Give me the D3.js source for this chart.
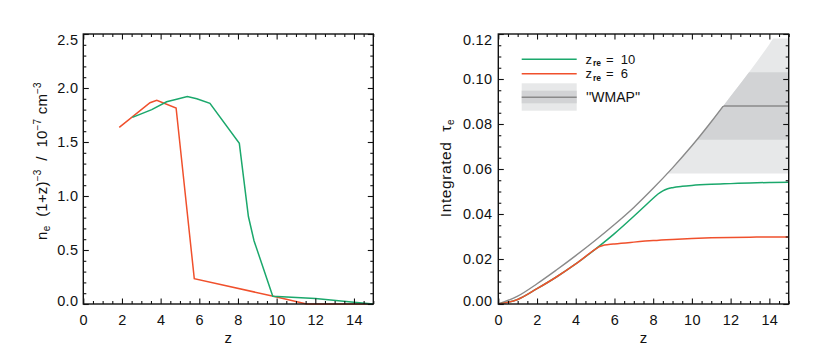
<!DOCTYPE html>
<html><head><meta charset="utf-8">
<script src="https://cdn.jsdelivr.net/npm/d3@7"></script>
<style>
html,body{margin:0;padding:0;background:#fff;}
svg{display:block;}
text{font-family:"Liberation Sans",Arial,Helvetica,sans-serif;fill:#111;}
</style></head>
<body><svg id="c" width="830" height="346"></svg>
<script>
// ---------- Data ----------
// Left panel: n_e (1+z)^-3 in 1e-7 cm^-3
const leftZre10_z = [2.54, 3.54, 4.31, 4.83, 5.38, 5.87, 6.55, 8.07, 8.54, 8.83, 9.8, 12.0, 14.0, 15.0];
const leftZre10_v = [1.728, 1.80, 1.873, 1.895, 1.92, 1.90, 1.858, 1.488, 0.81, 0.586, 0.072, 0.052, 0.016, 0.0];
const leftZre6_z  = [1.86, 3.45, 3.8, 4.8, 5.74, 9.83, 11.55, 15.0];
const leftZre6_v  = [1.636, 1.864, 1.886, 1.815, 0.235, 0.072, 0.0, 0.0];

// Right panel: integrated tau_e
const tauFull_z = [0,1,2,3,4,5,6,7,8,9,10,11,12,13,14,15];
const tauFull_v = [0,.0035,.0090,.0151,.0215,.0282,.0353,.0429,.0514,.0605,.0703,.0810,.0923,.1036,.1155,.1280];
const tauZre10_z = [0,1,2,3,4,5,6,7,7.5,8,8.25,8.5,8.75,9,9.5,10,11,12,13,14,15];
const tauZre10_v = [0,.0020,.0068,.0120,.0178,.0243,.0313,.0390,.0430,.0470,.0489,.0503,.0512,.0517,.0523,.0527,.0532,.0535,.0538,.0540,.0541];
const tauZre6_z = [0,1,2,3,4,5,5.2,5.4,5.7,6,7,8,9,10,11,12,13,14,15];
const tauZre6_v = [0,.0020,.0068,.0120,.0178,.0243,.0254,.0260,.0264,.0267,.0275,.0282,.0287,.0291,.0294,.0296,.0297,.0298,.0298];
const wmapTau = 0.088, wmap1 = [0.073, 0.103], wmap2 = [0.058, 0.118];

const xTicks = [0,2,4,6,8,10,12,14];
const leftYTicks = [0,0.5,1.0,1.5,2.0,2.5];
const rightYTicks = [0,0.02,0.04,0.06,0.08,0.10,0.12];
const legendLabels = ["10","6"];

const GREEN = "#1ba86c", RED = "#f0502c", GRAY = "#8a8a8a", LIGHT = "#e7e8e9", DARK = "#d2d3d5";

// ---------- Layout ----------
const svg = d3.select("#c");
svg.append("rect").attr("width",830).attr("height",346).attr("fill","#fff");
const P1 = {x0:83.3, x1:373.3, y0:34, y1:304};
const P2 = {x0:498.3, x1:788.7, y0:34, y1:304};

function range(a,b,s){const r=[];for(let v=a;v<=b+1e-9;v+=s)r.push(+v.toFixed(6));return r;}

function drawAxes(g, P, x, y, yTicks, yMinorStep, yFmt, yPad){
  const MAJ=5.5, MIN=3;
  const xMinor = range(0,15,0.5).filter(v=>!xTicks.includes(v));
  const yMinor = range(y.domain()[0], y.domain()[1], yMinorStep).filter(v=>!yTicks.some(t=>Math.abs(t-v)<1e-6));
  const style = s => { s.select(".domain").remove(); s.selectAll("line").attr("stroke","#111").attr("stroke-width",1.1); };
  g.append("g").attr("transform",`translate(0,${P.y1})`)
    .call(d3.axisBottom(x).tickValues(xTicks).tickSize(-MAJ).tickPadding(11).tickFormat(d3.format("d")))
    .call(style).call(s=>s.selectAll("text").attr("font-size",14.5).attr("letter-spacing",0.3).attr("fill","#111"));
  g.append("g").attr("transform",`translate(0,${P.y1})`)
    .call(d3.axisBottom(x).tickValues(xMinor).tickSize(-MIN).tickFormat("")).call(style);
  g.append("g").attr("transform",`translate(0,${P.y0})`)
    .call(d3.axisTop(x).tickValues(xTicks).tickSize(-MAJ).tickFormat("")).call(style);
  g.append("g").attr("transform",`translate(0,${P.y0})`)
    .call(d3.axisTop(x).tickValues(xMinor).tickSize(-MIN).tickFormat("")).call(style);
  const la = g.append("g").attr("transform",`translate(${P.x0},0)`)
    .call(d3.axisLeft(y).tickValues(yTicks).tickSize(-MAJ).tickPadding(yPad).tickFormat(d3.format(yFmt)))
    .call(style);
  la.selectAll("text").attr("font-size",14.5).attr("letter-spacing",0.3).attr("fill","#111")
    .attr("dy", (d,i,n)=> i===n.length-1 ? "0.72em" : (i===0 ? "0.1em" : "0.32em"));
  g.append("g").attr("transform",`translate(${P.x0},0)`)
    .call(d3.axisLeft(y).tickValues(yMinor).tickSize(-MIN).tickFormat("")).call(style);
  g.append("g").attr("transform",`translate(${P.x1},0)`)
    .call(d3.axisRight(y).tickValues(yTicks).tickSize(-MAJ).tickFormat("")).call(style);
  g.append("g").attr("transform",`translate(${P.x1},0)`)
    .call(d3.axisRight(y).tickValues(yMinor).tickSize(-MIN).tickFormat("")).call(style);
  g.append("rect").attr("x",P.x0).attr("y",P.y0).attr("width",P.x1-P.x0).attr("height",P.y1-P.y0)
    .attr("fill","none").attr("stroke","#111").attr("stroke-width",1.4);
  g.append("text").attr("x",(P.x0+P.x1)/2).attr("y",343).attr("text-anchor","middle")
    .attr("font-size",15).text("z");
}

function clip(id,P){
  svg.append("clipPath").attr("id",id).append("rect")
    .attr("x",P.x0).attr("y",P.y0-1).attr("width",P.x1-P.x0).attr("height",P.y1-P.y0+2);
}

// ---------- Left panel ----------
{
  const x = d3.scaleLinear().domain([0,15]).range([P1.x0,P1.x1]);
  const y = d3.scaleLinear().domain([0,2.5]).range([P1.y1,P1.y0]);
  clip("clipL",P1);
  const g = svg.append("g");
  const line = d3.line().x(d=>x(d[0])).y(d=>y(d[1]));
  const cg = g.append("g").attr("clip-path","url(#clipL)");
  cg.append("path").attr("d",line(leftZre6_z.map((z,i)=>[z,leftZre6_v[i]])))
    .attr("fill","none").attr("stroke",RED).attr("stroke-width",1.5);
  cg.append("path").attr("d",line(leftZre10_z.map((z,i)=>[z,leftZre10_v[i]])))
    .attr("fill","none").attr("stroke",GREEN).attr("stroke-width",1.5);
  drawAxes(g,P1,x,y,leftYTicks,0.1,".1f",5);
  const t = g.append("text").attr("transform","translate(47,161) rotate(-90)").attr("text-anchor","middle")
    .attr("font-size",15).attr("letter-spacing",0.2).attr("xml:space","preserve");
  t.append("tspan").text("n");
  t.append("tspan").attr("font-size",10).attr("dy",3).text("e");
  t.append("tspan").attr("dy",-3).text("  (1+z)");
  t.append("tspan").attr("font-size",10).attr("dy",-6).text("\u22123");
  t.append("tspan").attr("dy",6).text("  /  10");
  t.append("tspan").attr("font-size",10).attr("dy",-6).text("\u22127");
  t.append("tspan").attr("dy",6).text(" cm");
  t.append("tspan").attr("font-size",10).attr("dy",-6).text("\u22123");
}

// ---------- Right panel ----------
{
  const x = d3.scaleLinear().domain([0,15]).range([P2.x0,P2.x1]);
  const y = d3.scaleLinear().domain([0,0.12]).range([P2.y1,P2.y0]);
  clip("clipR",P2);
  const full = tauFull_z.map((z,i)=>[z,tauFull_v[i]]);
  const fullCurve = d3.curveCatmullRom.alpha(0.5);
  svg.append("clipPath").attr("id","clipUnder").append("path")
    .attr("d", d3.area().x(d=>x(d[0])).y0(y(0)).y1(d=>y(d[1])).curve(fullCurve)(full));
  svg.append("clipPath").attr("id","clipBelowWmap").append("rect")
    .attr("x",x(0)).attr("y",y(wmapTau)).attr("width",x(15)-x(0)).attr("height",y(0)-y(wmapTau)+2);
  const g = svg.append("g");
  const bands = g.append("g").attr("clip-path","url(#clipUnder)");
  bands.append("rect").attr("x",x(0)).attr("width",x(15)-x(0))
    .attr("y",y(wmap2[1])).attr("height",y(wmap2[0])-y(wmap2[1])).attr("fill",LIGHT);
  bands.append("rect").attr("x",x(0)).attr("width",x(15)-x(0))
    .attr("y",y(wmap1[1])).attr("height",y(wmap1[0])-y(wmap1[1])).attr("fill",DARK);
  const cg = g.append("g").attr("clip-path","url(#clipR)");
  const sm = d3.line().x(d=>x(d[0])).y(d=>y(d[1])).curve(d3.curveMonotoneX);
  cg.append("path").attr("d", d3.line().x(d=>x(d[0])).y(d=>y(d[1])).curve(fullCurve)(full))
    .attr("fill","none").attr("stroke",GRAY).attr("stroke-width",1.4)
    .attr("clip-path","url(#clipBelowWmap)");
  cg.append("line").attr("x1",x(11)).attr("x2",x(15)).attr("y1",y(wmapTau)).attr("y2",y(wmapTau))
    .attr("stroke",GRAY).attr("stroke-width",1.4).attr("clip-path","url(#clipUnder)");
  cg.append("path").attr("d",sm(tauZre10_z.map((z,i)=>[z,tauZre10_v[i]])))
    .attr("fill","none").attr("stroke",GREEN).attr("stroke-width",1.5);
  cg.append("path").attr("d",sm(tauZre6_z.map((z,i)=>[z,tauZre6_v[i]])))
    .attr("fill","none").attr("stroke",RED).attr("stroke-width",1.5);
  drawAxes(g,P2,x,y,rightYTicks,0.005,".2f",6);
  const t = g.append("text").attr("transform","translate(451,168) rotate(-90)").attr("text-anchor","middle")
    .attr("font-size",15.5).attr("letter-spacing",0.6).attr("xml:space","preserve");
  t.append("tspan").text("Integrated  \u03C4");
  t.append("tspan").attr("font-size",10).attr("dy",3).text("e");

  // legend
  const L = g.append("g");
  const lx0 = 521.7, lx1 = 576.7;
  L.append("line").attr("x1",lx0).attr("x2",lx1).attr("y1",59.3).attr("y2",59.3).attr("stroke",GREEN).attr("stroke-width",1.5);
  L.append("line").attr("x1",lx0).attr("x2",lx1).attr("y1",73.7).attr("y2",73.7).attr("stroke",RED).attr("stroke-width",1.5);
  L.append("rect").attr("x",lx0).attr("y",83.3).attr("width",lx1-lx0).attr("height",27.4).attr("fill",LIGHT);
  L.append("rect").attr("x",lx0).attr("y",90.7).attr("width",lx1-lx0).attr("height",12.6).attr("fill",DARK);
  L.append("line").attr("x1",lx0).attr("x2",lx1).attr("y1",97.3).attr("y2",97.3).attr("stroke",GRAY).attr("stroke-width",1.4);
  const baselines = [63.5, 78.4];
  legendLabels.forEach((v,i)=>{
    const yy = baselines[i];
    L.append("text").attr("x",585.5).attr("y",yy).attr("font-size",13).text("z");
    L.append("text").attr("x",593).attr("y",yy+2.6).attr("font-size",8.5).attr("font-weight","bold").text("re");
    L.append("text").attr("x",606).attr("y",yy).attr("font-size",13).attr("xml:space","preserve").text("=  "+v);
  });
  L.append("text").attr("x",586).attr("y",102.3).attr("font-size",14).text("''WMAP''");
}
</script></body></html>
